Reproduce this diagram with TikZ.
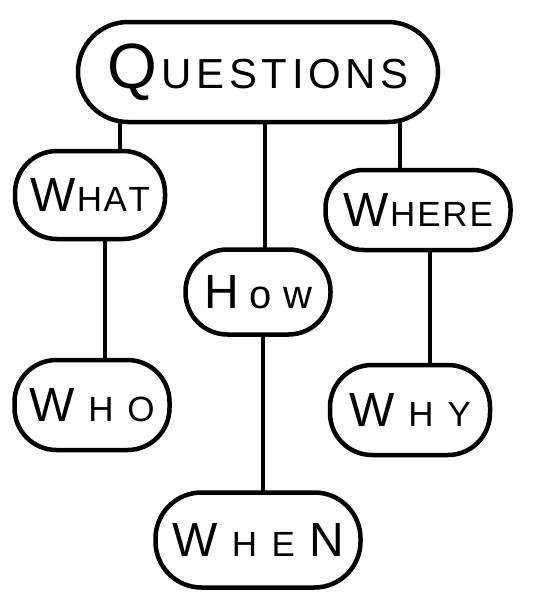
\documentclass[tikz,border=0pt]{standalone}
\usepackage{fontspec}
\setmainfont{Liberation Sans}
\usetikzlibrary{backgrounds}
\newcommand\BigLet[1]{{\fontsize{48}{54}\selectfont #1}}
\newcommand\SmLet[1]{{\fontsize{35}{40}\selectfont #1}}
\newcommand\spreadword[2]{\makebox[#1][s]{#2}}
\begin{document}
\begin{tikzpicture}[x=1pt,y=-1pt,
  bubble/.style={draw=black, line width=4.5pt, fill=white, rounded corners=42pt, inner sep=0pt, font=\mdseries},
  link/.style={draw=black, line width=4.5pt, line cap=round}]
\useasboundingbox (0,0) rectangle (542,597);
\node[bubble, minimum width=360pt, minimum height=100pt, rounded corners=50pt] (q) at (258,72) {\spreadword{302pt}{{\fontsize{64}{68}\selectfont Q}\hfill{\fontsize{42}{46}\selectfont U\hfill E\hfill S\hfill T\hfill I\hfill O\hfill N\hfill S}}};
\node[bubble, minimum width=150pt, minimum height=88pt] (what) at (90,195) {\spreadword{120pt}{\BigLet{W}\hfill\SmLet{H}\hfill\SmLet{A}\hfill\SmLet{T}}};
\node[bubble, minimum width=185pt, minimum height=80pt, rounded corners=38pt] (where) at (418,210) {\spreadword{150pt}{\BigLet{W}\hfill\SmLet{H}\hfill\SmLet{E}\hfill\SmLet{R}\hfill\SmLet{E}}};
\node[bubble, minimum width=145pt, minimum height=85pt] (how) at (258,292) {\spreadword{108pt}{\BigLet{H}\hfill{\fontsize{40}{44}\selectfont o}\hfill{\fontsize{40}{44}\selectfont w}}};
\node[bubble, minimum width=155pt, minimum height=90pt] (who) at (92,405) {\spreadword{125pt}{\BigLet{W}\hfill\SmLet{H}\hfill\SmLet{O}}};
\node[bubble, minimum width=160pt, minimum height=90pt] (why) at (410,410) {\spreadword{122pt}{\BigLet{W}\hfill\SmLet{H}\hfill\SmLet{Y}}};
\node[bubble, minimum width=205pt, minimum height=95pt, rounded corners=46pt] (when) at (258,540) {\spreadword{172pt}{\BigLet{W}\hfill\SmLet{H}\hfill\SmLet{E}\hfill\BigLet{N}}};
\begin{scope}[on background layer]
\draw[link] ([xshift=-138pt]q.center) -- ([xshift=30pt]what.center);
\draw[link] ([xshift=7pt]q.center) -- ([xshift=7pt]how.center);
\draw[link] ([xshift=142pt]q.center) -- ([xshift=-18pt]where.center);
\draw[link] ([xshift=15pt]what.center) -- ([xshift=13pt]who.center);
\draw[link] ([xshift=12pt]where.center) -- ([xshift=20pt]why.center);
\draw[link] ([xshift=5pt]how.center) -- ([xshift=5pt]when.center);
\end{scope}
\end{tikzpicture}
\end{document}
